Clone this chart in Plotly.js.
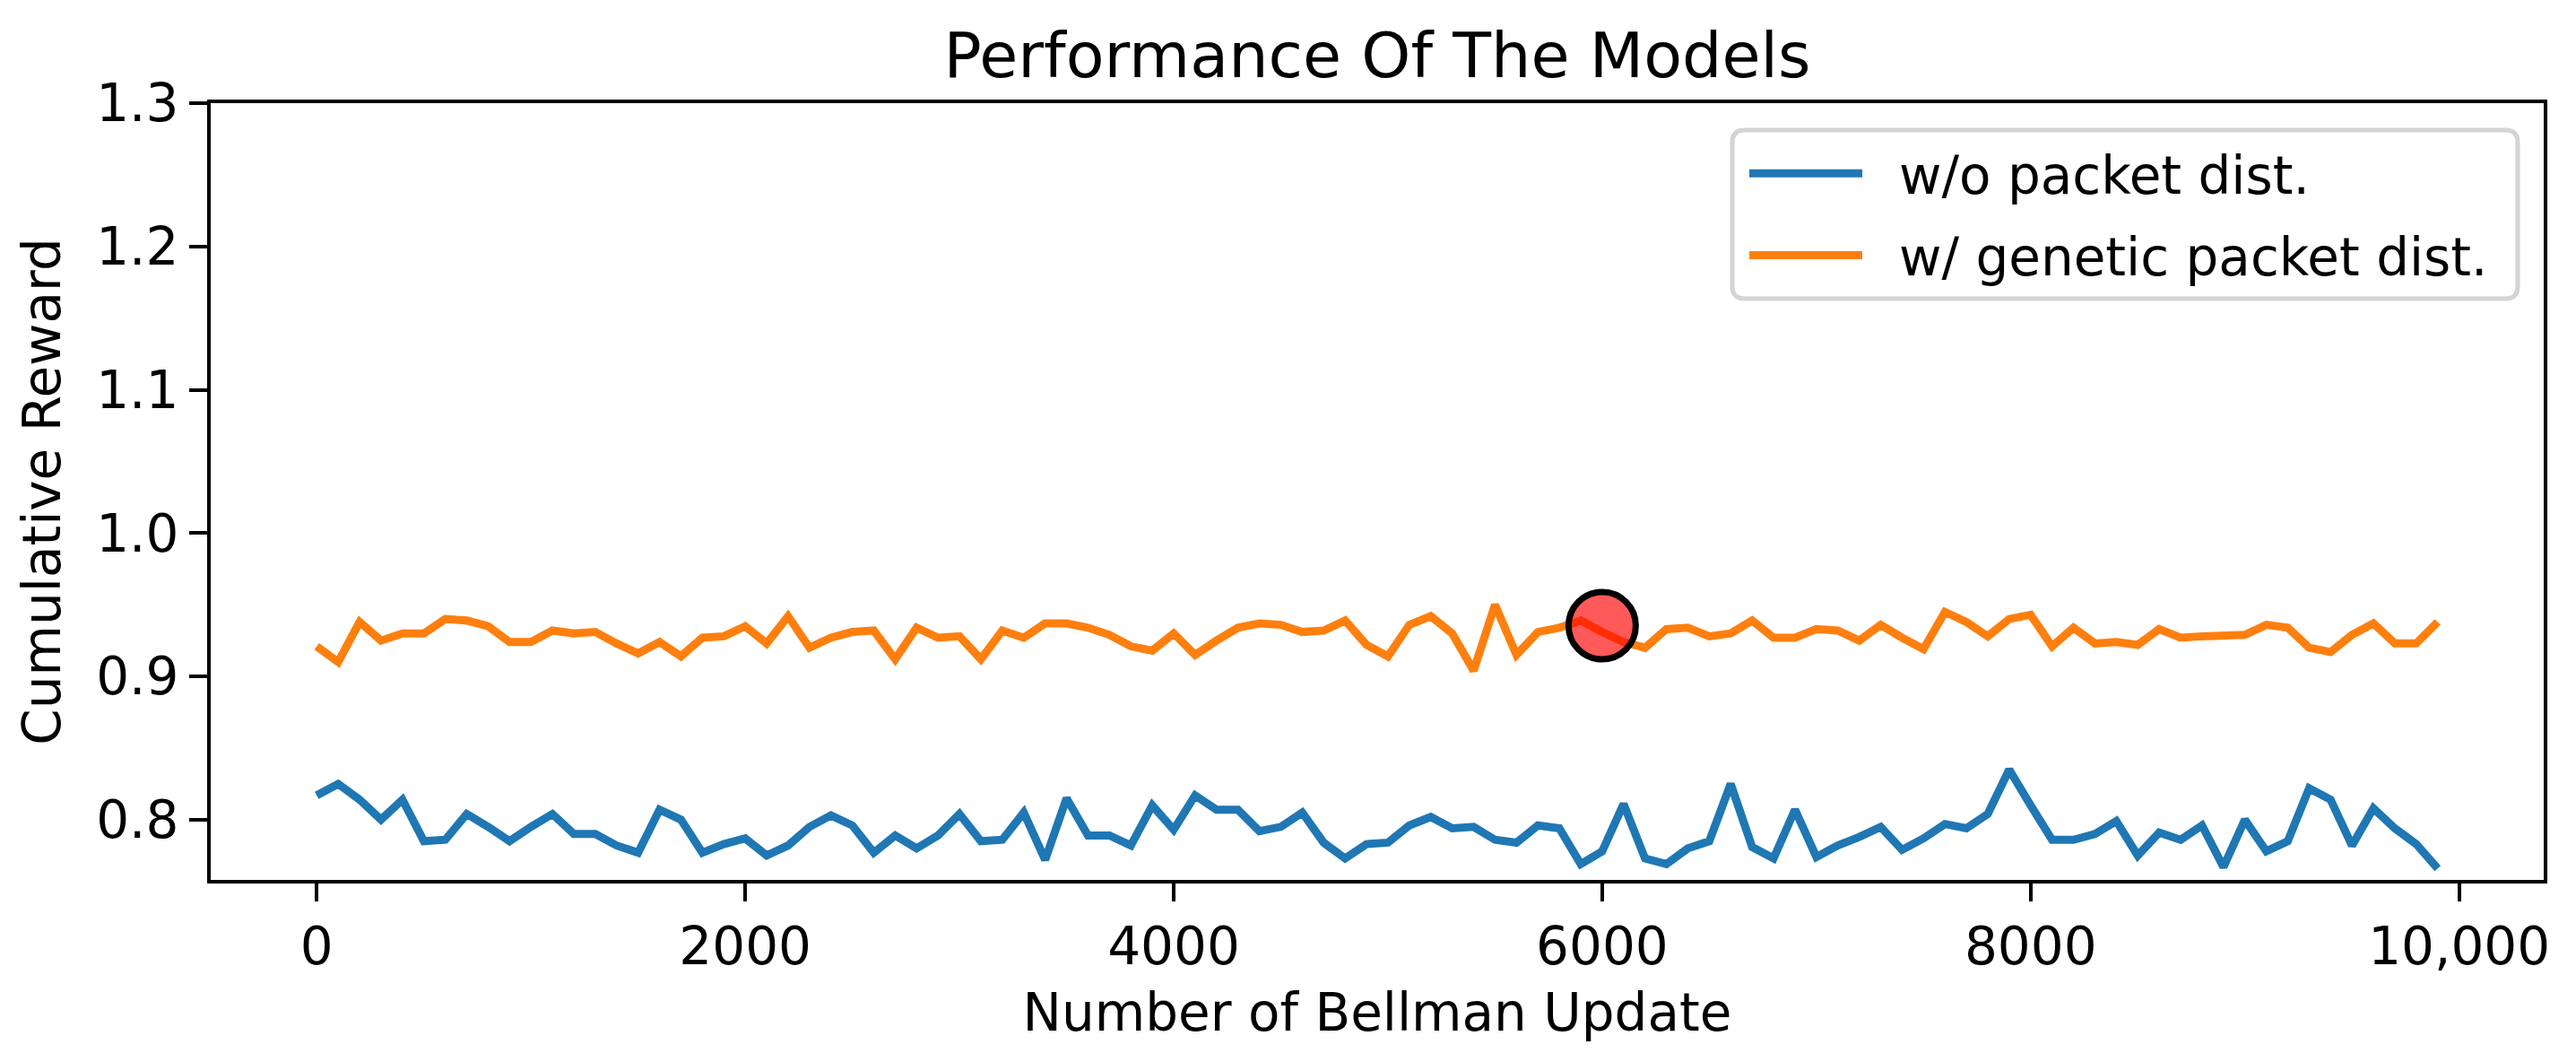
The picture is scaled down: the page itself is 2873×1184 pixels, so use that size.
<!DOCTYPE html>
<html>
<head>
<meta charset="utf-8">
<script src="https://cdn.plot.ly/plotly-3.0.1.min.js"></script>
<style>
html,body{margin:0;padding:0;background:#fff;}
#chart{width:2873px;height:1184px;}
#chart .legend .legendlines path{visibility:hidden;}
</style>
</head>
<body>
<div id="chart"></div>
<script>
const bellmanUpdates = [0,100,200,300,400,500,600,700,800,900,1000,1100,1200,1300,1400,1500,1600,1700,1800,1900,2000,2100,2200,2300,2400,2500,2600,2700,2800,2900,3000,3100,3200,3300,3400,3500,3600,3700,3800,3900,4000,4100,4200,4300,4400,4500,4600,4700,4800,4900,5000,5100,5200,5300,5400,5500,5600,5700,5800,5900,6000,6100,6200,6300,6400,6500,6600,6700,6800,6900,7000,7100,7200,7300,7400,7500,7600,7700,7800,7900,8000,8100,8200,8300,8400,8500,8600,8700,8800,8900,9000,9100,9200,9300,9400,9500,9600,9700,9800,9900];

const rewardNoDist = [0.817,0.825,0.814,0.800,0.814,0.785,0.786,0.804,0.795,0.785,0.795,0.804,0.790,0.790,0.782,0.777,0.807,0.800,0.777,0.783,0.787,0.775,0.782,0.795,0.803,0.796,0.777,0.789,0.780,0.789,0.804,0.785,0.786,0.805,0.772,0.815,0.789,0.789,0.782,0.810,0.793,0.817,0.807,0.807,0.792,0.795,0.805,0.784,0.773,0.783,0.784,0.796,0.802,0.794,0.795,0.786,0.784,0.796,0.794,0.769,0.778,0.811,0.773,0.769,0.780,0.785,0.825,0.781,0.773,0.807,0.774,0.782,0.788,0.795,0.779,0.787,0.797,0.794,0.804,0.835,0.810,0.786,0.786,0.790,0.799,0.775,0.791,0.786,0.796,0.767,0.800,0.778,0.785,0.822,0.814,0.782,0.808,0.794,0.783,0.766];

const rewardGenetic = [0.921,0.910,0.938,0.925,0.930,0.930,0.940,0.939,0.935,0.924,0.924,0.932,0.930,0.931,0.923,0.916,0.924,0.914,0.927,0.928,0.935,0.923,0.942,0.920,0.927,0.931,0.932,0.912,0.934,0.927,0.928,0.912,0.932,0.927,0.937,0.937,0.934,0.929,0.921,0.918,0.930,0.915,0.925,0.934,0.937,0.936,0.931,0.932,0.939,0.922,0.914,0.936,0.942,0.930,0.904,0.950,0.915,0.931,0.934,0.939,0.931,0.924,0.920,0.933,0.934,0.928,0.930,0.939,0.927,0.927,0.933,0.932,0.925,0.936,0.927,0.919,0.945,0.938,0.928,0.940,0.943,0.921,0.934,0.923,0.924,0.922,0.933,0.927,0.928,0.928,0.929,0.936,0.934,0.920,0.917,0.929,0.937,0.923,0.923,0.938];

const highlightX = [6000];
const highlightY = [0.9354];

const seriesNames = ['w/o packet dist.', 'w/ genetic packet dist.'];
const seriesColors = ['#1f77b4', '#ff7f0e'];
const xTickVals = [0, 2000, 4000, 6000, 8000, 10000];
const xTickText = ['0', '2000', '4000', '6000', '8000', '10,000'];
const yTickVals = [0.8, 0.9, 1.0, 1.1, 1.2, 1.3];
const yTickText = ['0.8', '0.9', '1.0', '1.1', '1.2', '1.3'];

const FONT = 'DejaVu Sans, sans-serif';
const W = 2873, H = 1184;
const M = {l: 235, r: 36, t: 115, b: 203};
const PW = W - M.l - M.r, PH = H - M.t - M.b;
const fx = px => (px - M.l) / PW;
const fy = py => 1 - (py - M.t) / PH;

// rounded legend frame (pixel geometry converted to paper fractions)
function roundedRect(x0, y0, x1, y1, r) {
  const X = fx, Y = fy;
  return 'M' + X(x0 + r) + ',' + Y(y0) +
    ' L' + X(x1 - r) + ',' + Y(y0) + ' Q' + X(x1) + ',' + Y(y0) + ' ' + X(x1) + ',' + Y(y0 + r) +
    ' L' + X(x1) + ',' + Y(y1 - r) + ' Q' + X(x1) + ',' + Y(y1) + ' ' + X(x1 - r) + ',' + Y(y1) +
    ' L' + X(x0 + r) + ',' + Y(y1) + ' Q' + X(x0) + ',' + Y(y1) + ' ' + X(x0) + ',' + Y(y1 - r) +
    ' L' + X(x0) + ',' + Y(y0 + r) + ' Q' + X(x0) + ',' + Y(y0) + ' ' + X(x0 + r) + ',' + Y(y0) + ' Z';
}
const legendFrame = {
  type: 'path', xref: 'paper', yref: 'paper', layer: 'above',
  path: roundedRect(1932, 145, 2808, 333, 14),
  fillcolor: 'rgba(255,255,255,0.8)', line: {color: '#d4d4d4', width: 5}
};

const traces = [
  {x: bellmanUpdates, y: rewardNoDist, type: 'scatter', mode: 'lines', name: seriesNames[0],
   legendgroup: 'a', line: {color: seriesColors[0], width: 9}},
  {x: bellmanUpdates, y: rewardGenetic, type: 'scatter', mode: 'lines', name: seriesNames[1],
   legendgroup: 'b', line: {color: seriesColors[1], width: 9}},
  {x: highlightX, y: highlightY, type: 'scatter', mode: 'markers', showlegend: false, hoverinfo: 'skip',
   marker: {size: 75, color: 'rgba(255,0,0,0.65)', line: {color: '#000', width: 7}}}
];

const layout = {
  width: W, height: H,
  margin: {l: M.l, r: M.r, t: M.t, b: M.b, pad: 0},
  paper_bgcolor: '#fff', plot_bgcolor: '#fff',
  font: {family: FONT, size: 58, color: '#000'},
  title: {text: 'Performance Of The Models', font: {family: FONT, size: 70, color: '#000'},
          x: 0.5, xref: 'paper', xanchor: 'center', y: 1 - 61/H, yref: 'container', yanchor: 'middle'},
  xaxis: {
    range: [-495, 10395], showgrid: false, zeroline: false,
    showline: true, mirror: true, linecolor: '#000', linewidth: 4,
    ticks: 'outside', ticklen: 20, tickwidth: 4, tickcolor: '#000',
    tickvals: xTickVals, ticktext: xTickText,
    tickfont: {family: FONT, size: 58, color: '#000'},
    title: {text: 'Number of Bellman Update', font: {family: FONT, size: 58, color: '#000'}, standoff: 22}
  },
  yaxis: {
    range: [0.758, 1.3], showgrid: false, zeroline: false,
    showline: true, mirror: true, linecolor: '#000', linewidth: 4,
    ticks: 'outside', ticklen: 20, tickwidth: 4, tickcolor: '#000',
    tickvals: yTickVals, ticktext: yTickText,
    tickfont: {family: FONT, size: 58, color: '#000'},
    title: {text: 'Cumulative Reward', font: {family: FONT, size: 58, color: '#000'}, standoff: 22}
  },
  legend: {
    x: fx(1946), xanchor: 'left', y: fy(149), yanchor: 'top',
    bgcolor: 'rgba(0,0,0,0)', borderwidth: 0,
    font: {family: FONT, size: 58, color: '#000'},
    itemwidth: 162, traceorder: 'grouped', tracegroupgap: 13
  },
  shapes: [legendFrame],
  showlegend: true
};

Plotly.newPlot('chart', traces, layout, {displayModeBar: false, staticPlot: true}).then(gd => {
  // legend handles drawn at the reference handle length, aligned to the legend rows
  const gbox = gd.getBoundingClientRect();
  const paths = gd.querySelectorAll('.legend .traces .legendlines path');
  const shapes = [legendFrame];
  paths.forEach((p, i) => {
    const r = p.getBoundingClientRect();
    const yc = r.top + r.height / 2 - gbox.top;
    const x0 = r.left - gbox.left;
    shapes.push({type: 'line', xref: 'paper', yref: 'paper', layer: 'above',
      x0: fx(x0), x1: fx(x0 + 126), y0: fy(yc), y1: fy(yc),
      line: {color: seriesColors[i % seriesColors.length], width: 9}});
  });
  return Plotly.relayout(gd, {shapes: shapes});
});
</script>
</body>
</html>
